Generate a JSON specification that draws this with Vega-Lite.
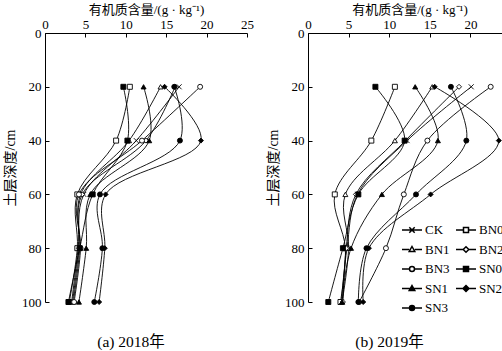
{
  "$schema": "https://vega.github.io/schema/vega-lite/v6.json",
  "background": "white",
  "padding": {"left": 3, "top": 3, "right": 0, "bottom": 0},
  "config": {
    "font": "Liberation Serif",
    "view": {"stroke": null},
    "axis": {
      "labelFont": "Liberation Serif",
      "labelFontSize": 13,
      "labelColor": "black",
      "titleFont": "Liberation Serif, Noto Sans CJK SC",
      "titleFontWeight": "normal",
      "titleFontSize": 13,
      "titleColor": "black",
      "domainColor": "black",
      "tickColor": "black",
      "grid": false
    }
  },
  "datasets": {
    "soil": [
      {"year": 2018, "series": "CK", "depth": 20, "som": 16.6},
      {"year": 2018, "series": "CK", "depth": 40, "som": 11.3},
      {"year": 2018, "series": "CK", "depth": 60, "som": 4.8},
      {"year": 2018, "series": "CK", "depth": 80, "som": 4.1},
      {"year": 2018, "series": "CK", "depth": 100, "som": 3.3},
      {"year": 2018, "series": "BN0", "depth": 20, "som": 10.5},
      {"year": 2018, "series": "BN0", "depth": 40, "som": 8.8},
      {"year": 2018, "series": "BN0", "depth": 60, "som": 4.0},
      {"year": 2018, "series": "BN0", "depth": 80, "som": 4.0},
      {"year": 2018, "series": "BN0", "depth": 100, "som": 3.0},
      {"year": 2018, "series": "BN1", "depth": 20, "som": 14.3},
      {"year": 2018, "series": "BN1", "depth": 40, "som": 10.4},
      {"year": 2018, "series": "BN1", "depth": 60, "som": 4.4},
      {"year": 2018, "series": "BN1", "depth": 80, "som": 4.3},
      {"year": 2018, "series": "BN1", "depth": 100, "som": 3.5},
      {"year": 2018, "series": "BN2", "depth": 20, "som": 16.1},
      {"year": 2018, "series": "BN2", "depth": 40, "som": 12.5},
      {"year": 2018, "series": "BN2", "depth": 60, "som": 4.6},
      {"year": 2018, "series": "BN2", "depth": 80, "som": 4.2},
      {"year": 2018, "series": "BN2", "depth": 100, "som": 3.4},
      {"year": 2018, "series": "BN3", "depth": 20, "som": 19.2},
      {"year": 2018, "series": "BN3", "depth": 40, "som": 12.0},
      {"year": 2018, "series": "BN3", "depth": 60, "som": 4.2},
      {"year": 2018, "series": "BN3", "depth": 80, "som": 4.4},
      {"year": 2018, "series": "BN3", "depth": 100, "som": 3.6},
      {"year": 2018, "series": "SN0", "depth": 20, "som": 9.7},
      {"year": 2018, "series": "SN0", "depth": 40, "som": 10.2},
      {"year": 2018, "series": "SN0", "depth": 60, "som": 5.9},
      {"year": 2018, "series": "SN0", "depth": 80, "som": 4.3},
      {"year": 2018, "series": "SN0", "depth": 100, "som": 2.9},
      {"year": 2018, "series": "SN1", "depth": 20, "som": 12.2},
      {"year": 2018, "series": "SN1", "depth": 40, "som": 12.9},
      {"year": 2018, "series": "SN1", "depth": 60, "som": 5.6},
      {"year": 2018, "series": "SN1", "depth": 80, "som": 5.1},
      {"year": 2018, "series": "SN1", "depth": 100, "som": 4.2},
      {"year": 2018, "series": "SN2", "depth": 20, "som": 14.8},
      {"year": 2018, "series": "SN2", "depth": 40, "som": 19.3},
      {"year": 2018, "series": "SN2", "depth": 60, "som": 7.5},
      {"year": 2018, "series": "SN2", "depth": 80, "som": 7.4},
      {"year": 2018, "series": "SN2", "depth": 100, "som": 6.7},
      {"year": 2018, "series": "SN3", "depth": 20, "som": 16.0},
      {"year": 2018, "series": "SN3", "depth": 40, "som": 16.7},
      {"year": 2018, "series": "SN3", "depth": 60, "som": 6.8},
      {"year": 2018, "series": "SN3", "depth": 80, "som": 7.1},
      {"year": 2018, "series": "SN3", "depth": 100, "som": 6.1},
      {"year": 2019, "series": "CK", "depth": 20, "som": 20.1},
      {"year": 2019, "series": "CK", "depth": 40, "som": 12.2},
      {"year": 2019, "series": "CK", "depth": 60, "som": 6.1},
      {"year": 2019, "series": "CK", "depth": 80, "som": 4.8},
      {"year": 2019, "series": "CK", "depth": 100, "som": 4.1},
      {"year": 2019, "series": "BN0", "depth": 20, "som": 10.7},
      {"year": 2019, "series": "BN0", "depth": 40, "som": 7.8},
      {"year": 2019, "series": "BN0", "depth": 60, "som": 3.3},
      {"year": 2019, "series": "BN0", "depth": 80, "som": 4.6},
      {"year": 2019, "series": "BN0", "depth": 100, "som": 4.0},
      {"year": 2019, "series": "BN1", "depth": 20, "som": 15.3},
      {"year": 2019, "series": "BN1", "depth": 40, "som": 10.7},
      {"year": 2019, "series": "BN1", "depth": 60, "som": 4.6},
      {"year": 2019, "series": "BN1", "depth": 80, "som": 5.0},
      {"year": 2019, "series": "BN1", "depth": 100, "som": 4.2},
      {"year": 2019, "series": "BN2", "depth": 20, "som": 18.6},
      {"year": 2019, "series": "BN2", "depth": 40, "som": 12.0},
      {"year": 2019, "series": "BN2", "depth": 60, "som": 5.9},
      {"year": 2019, "series": "BN2", "depth": 80, "som": 4.7},
      {"year": 2019, "series": "BN2", "depth": 100, "som": 4.3},
      {"year": 2019, "series": "BN3", "depth": 20, "som": 22.5},
      {"year": 2019, "series": "BN3", "depth": 40, "som": 14.7},
      {"year": 2019, "series": "BN3", "depth": 60, "som": 11.8},
      {"year": 2019, "series": "BN3", "depth": 80, "som": 9.6},
      {"year": 2019, "series": "BN3", "depth": 100, "som": 6.3},
      {"year": 2019, "series": "SN0", "depth": 20, "som": 8.3},
      {"year": 2019, "series": "SN0", "depth": 40, "som": 11.9},
      {"year": 2019, "series": "SN0", "depth": 60, "som": 6.2},
      {"year": 2019, "series": "SN0", "depth": 80, "som": 4.3},
      {"year": 2019, "series": "SN0", "depth": 100, "som": 2.5},
      {"year": 2019, "series": "SN1", "depth": 20, "som": 13.2},
      {"year": 2019, "series": "SN1", "depth": 40, "som": 16.0},
      {"year": 2019, "series": "SN1", "depth": 60, "som": 9.1},
      {"year": 2019, "series": "SN1", "depth": 80, "som": 5.3},
      {"year": 2019, "series": "SN1", "depth": 100, "som": 4.2},
      {"year": 2019, "series": "SN2", "depth": 20, "som": 15.6},
      {"year": 2019, "series": "SN2", "depth": 40, "som": 23.5},
      {"year": 2019, "series": "SN2", "depth": 60, "som": 15.1},
      {"year": 2019, "series": "SN2", "depth": 80, "som": 7.5},
      {"year": 2019, "series": "SN2", "depth": 100, "som": 6.8},
      {"year": 2019, "series": "SN3", "depth": 20, "som": 17.6},
      {"year": 2019, "series": "SN3", "depth": 40, "som": 19.5},
      {"year": 2019, "series": "SN3", "depth": 60, "som": 13.3},
      {"year": 2019, "series": "SN3", "depth": 80, "som": 7.2},
      {"year": 2019, "series": "SN3", "depth": 100, "som": 6.2}
    ]
  },
  "spacing": 12,
  "hconcat": [
    {
      "width": 202,
      "height": 269,
      "data": {"name": "soil"},
      "transform": [{"filter": "datum.year == 2018"}],
      "title": {"text": "(a) 2018年", "orient": "bottom", "frame": "group", "anchor": "middle", "dx": -15, "offset": 26, "fontSize": 15.5, "fontWeight": "normal", "font": "Liberation Serif, Noto Sans CJK SC", "color": "black"},
      "encoding": {
        "x": {"field": "som", "type": "quantitative", "scale": {"domain": [0, 25], "nice": false, "zero": true},
              "axis": {"orient": "top", "values": [0, 5, 10, 15, 20, 25], "title": "有机质含量/(g · kg⁻¹)", "tickSize": -4, "labelPadding": 6, "titlePadding": 2, "labelFlush": false}},
        "y": {"field": "depth", "type": "quantitative", "scale": {"domain": [0, 100], "reverse": true, "nice": false},
              "axis": {"values": [0, 20, 40, 60, 80, 100], "title": "土层深度/cm", "titleFontSize": 14, "tickSize": -4, "labelPadding": 8, "titleX": -28, "labelFlush": false}}
      },
      "layer": [
        {"mark": {"type": "line", "interpolate": "catmull-rom", "color": "black", "strokeWidth": 0.9},
         "encoding": {"detail": {"field": "series", "type": "nominal"}, "order": {"field": "depth", "type": "quantitative"}}},
        {"mark": {"type": "point", "filled": true, "size": 25, "stroke": "black", "strokeWidth": 0.9, "opacity": 1},
         "encoding": {
           "shape": {"condition": [
                       {"test": "datum.series == 'CK'", "value": "M-1,-1L1,1M-1,1L1,-1"},
                       {"test": "datum.series == 'BN0' || datum.series == 'SN0'", "value": "square"},
                       {"test": "datum.series == 'BN1' || datum.series == 'SN1'", "value": "triangle-up"},
                       {"test": "datum.series == 'BN2' || datum.series == 'SN2'", "value": "diamond"}],
                     "value": "circle"},
           "fill": {"field": "series", "type": "nominal",
                    "scale": {"domain": ["CK", "BN0", "BN1", "BN2", "BN3", "SN0", "SN1", "SN2", "SN3"],
                              "range": ["white", "white", "white", "white", "white", "black", "black", "black", "black"]}}
         }},
        {"mark": {"type": "point", "filled": true, "size": 25, "opacity": 0},
         "encoding": {
           "shape": {"field": "series", "type": "nominal",
                     "scale": {"domain": ["CK", "BN0", "BN1", "BN2", "BN3", "SN0", "SN1", "SN2", "SN3"],
                               "range": ["M-1,0H1M-0.27,-0.27L0.27,0.27M-0.27,0.27L0.27,-0.27",
                                         "M-1,0H-0.25M0.25,0H1M-0.25,-0.25H0.25V0.25H-0.25Z",
                                         "M-1,0H-0.28M0.28,0H1M0,-0.3L0.28,0.2H-0.28Z",
                                         "M-1,0H-0.28M0.28,0H1M0,-0.28L0.28,0L0,0.28L-0.28,0Z",
                                         "M-1,0H-0.25M0.25,0H1M-0.25,0A0.25,0.25 0 1,0 0.25,0A0.25,0.25 0 1,0 -0.25,0Z",
                                         "M-1,0H1M-0.25,-0.25H0.25V0.25H-0.25Z",
                                         "M-1,0H1M0,-0.3L0.28,0.2H-0.28Z",
                                         "M-1,0H1M0,-0.3L0.3,0L0,0.3L-0.3,0Z",
                                         "M-1,0H1M-0.25,0A0.25,0.25 0 1,0 0.25,0A0.25,0.25 0 1,0 -0.25,0Z"]},
                     "legend": {"orient": "none", "legendX": 356, "legendY": 186, "direction": "horizontal", "columns": 2, "title": null, "padding": 0,
                                "symbolSize": 400, "symbolOpacity": 1,
                                "labelFont": "Liberation Serif", "labelFontSize": 13, "labelColor": "black", "labelOffset": 2,
                                "columnPadding": 3, "rowPadding": 1.5,
                                "encode": {"symbols": {
                                  "stroke": {"value": "black"},
                                  "strokeWidth": {"value": 0.9},
                                  "opacity": {"value": 1}
                                }}}},
           "fill": {"field": "series", "type": "nominal",
                    "scale": {"domain": ["CK", "BN0", "BN1", "BN2", "BN3", "SN0", "SN1", "SN2", "SN3"],
                              "range": ["white", "white", "white", "white", "white", "black", "black", "black", "black"]}}
         }}
      ]
    },
    {
      "width": 203,
      "height": 269,
      "data": {"name": "soil"},
      "transform": [{"filter": "datum.year == 2019"}],
      "title": {"text": "(b) 2019年", "orient": "bottom", "frame": "group", "anchor": "middle", "dx": -20, "offset": 26, "fontSize": 15.5, "fontWeight": "normal", "font": "Liberation Serif, Noto Sans CJK SC", "color": "black"},
      "encoding": {
        "x": {"field": "som", "type": "quantitative", "scale": {"domain": [0, 25], "nice": false, "zero": true},
              "axis": {"orient": "top", "values": [0, 5, 10, 15, 20, 25], "title": "有机质含量/(g · kg⁻¹)", "tickSize": -4, "labelPadding": 6, "titlePadding": 2, "labelFlush": false}},
        "y": {"field": "depth", "type": "quantitative", "scale": {"domain": [0, 100], "reverse": true, "nice": false},
              "axis": {"values": [0, 20, 40, 60, 80, 100], "title": "土层深度/cm", "titleFontSize": 14, "tickSize": -4, "labelPadding": 8, "titleX": -28, "labelFlush": false}}
      },
      "layer": [
        {"mark": {"type": "line", "interpolate": "catmull-rom", "color": "black", "strokeWidth": 0.9},
         "encoding": {"detail": {"field": "series", "type": "nominal"}, "order": {"field": "depth", "type": "quantitative"}}},
        {"mark": {"type": "point", "filled": true, "size": 25, "stroke": "black", "strokeWidth": 0.9, "opacity": 1},
         "encoding": {
           "shape": {"condition": [
                       {"test": "datum.series == 'CK'", "value": "M-1,-1L1,1M-1,1L1,-1"},
                       {"test": "datum.series == 'BN0' || datum.series == 'SN0'", "value": "square"},
                       {"test": "datum.series == 'BN1' || datum.series == 'SN1'", "value": "triangle-up"},
                       {"test": "datum.series == 'BN2' || datum.series == 'SN2'", "value": "diamond"}],
                     "value": "circle"},
           "fill": {"field": "series", "type": "nominal",
                    "scale": {"domain": ["CK", "BN0", "BN1", "BN2", "BN3", "SN0", "SN1", "SN2", "SN3"],
                              "range": ["white", "white", "white", "white", "white", "black", "black", "black", "black"]}}
         }},
        {"mark": {"type": "point", "filled": true, "size": 25, "opacity": 0},
         "encoding": {
           "shape": {"field": "series", "type": "nominal",
                     "scale": {"domain": ["CK", "BN0", "BN1", "BN2", "BN3", "SN0", "SN1", "SN2", "SN3"],
                               "range": ["M-1,0H1M-0.27,-0.27L0.27,0.27M-0.27,0.27L0.27,-0.27",
                                         "M-1,0H-0.25M0.25,0H1M-0.25,-0.25H0.25V0.25H-0.25Z",
                                         "M-1,0H-0.28M0.28,0H1M0,-0.3L0.28,0.2H-0.28Z",
                                         "M-1,0H-0.28M0.28,0H1M0,-0.28L0.28,0L0,0.28L-0.28,0Z",
                                         "M-1,0H-0.25M0.25,0H1M-0.25,0A0.25,0.25 0 1,0 0.25,0A0.25,0.25 0 1,0 -0.25,0Z",
                                         "M-1,0H1M-0.25,-0.25H0.25V0.25H-0.25Z",
                                         "M-1,0H1M0,-0.3L0.28,0.2H-0.28Z",
                                         "M-1,0H1M0,-0.3L0.3,0L0,0.3L-0.3,0Z",
                                         "M-1,0H1M-0.25,0A0.25,0.25 0 1,0 0.25,0A0.25,0.25 0 1,0 -0.25,0Z"]},
                     "legend": {"orient": "none", "legendX": 356, "legendY": 186, "direction": "horizontal", "columns": 2, "title": null, "padding": 0,
                                "symbolSize": 400, "symbolOpacity": 1,
                                "labelFont": "Liberation Serif", "labelFontSize": 13, "labelColor": "black", "labelOffset": 2,
                                "columnPadding": 3, "rowPadding": 1.5,
                                "encode": {"symbols": {
                                  "stroke": {"value": "black"},
                                  "strokeWidth": {"value": 0.9},
                                  "opacity": {"value": 1}
                                }}}},
           "fill": {"field": "series", "type": "nominal",
                    "scale": {"domain": ["CK", "BN0", "BN1", "BN2", "BN3", "SN0", "SN1", "SN2", "SN3"],
                              "range": ["white", "white", "white", "white", "white", "black", "black", "black", "black"]}}
         }}
      ]
    }
  ]
}
